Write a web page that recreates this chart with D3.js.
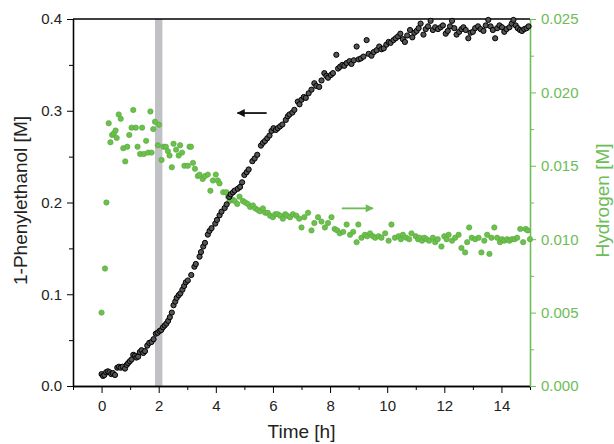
<!DOCTYPE html>
<html>
<head>
<meta charset="utf-8">
<script src="https://cdn.jsdelivr.net/npm/d3@7"></script>
<style>
  body { margin: 0; background: #fff; }
  svg { font-family: "Liberation Sans", Arial, sans-serif; }
</style>
</head>
<body>
<div id="chart"></div>
<script>
// 1-phenylethanol (left axis)
var phTime = [0.00,0.05,0.10,0.16,0.22,0.28,0.34,0.40,0.47,0.55,0.61,0.67,0.74,0.82,0.88,0.93,0.99,1.05,1.11,1.17,1.22,1.28,1.34,1.40,1.46,1.52,1.60,1.67,1.75,1.82,1.90,1.96,2.03,2.09,2.15,2.21,2.27,2.33,2.39,2.46,2.52,2.58,2.63,2.70,2.76,2.83,2.89,2.95,3.02,3.14,3.25,3.30,3.43,3.48,3.56,3.62,3.72,3.78,3.85,3.98,4.04,4.13,4.20,4.31,4.38,4.47,4.52,4.60,4.66,4.77,4.85,4.92,5.00,5.08,5.15,5.28,5.36,5.45,5.58,5.65,5.72,5.80,5.88,5.95,6.02,6.10,6.17,6.25,6.33,6.45,6.52,6.58,6.68,6.75,6.87,6.93,7.00,7.08,7.15,7.25,7.35,7.45,7.52,7.62,7.70,7.80,7.87,7.93,8.03,8.10,8.22,8.28,8.35,8.43,8.50,8.58,8.68,8.75,8.83,8.93,9.00,9.08,9.17,9.28,9.35,9.45,9.53,9.63,9.72,9.80,9.88,9.97,10.05,10.12,10.22,10.30,10.38,10.46,10.55,10.62,10.70,10.80,10.88,10.95,11.03,11.10,11.17,11.27,11.35,11.43,11.52,11.60,11.68,11.78,11.87,11.95,12.05,12.12,12.20,12.27,12.35,12.43,12.52,12.60,12.67,12.75,12.84,12.92,13.00,13.08,13.18,13.27,13.37,13.45,13.54,13.62,13.70,13.78,13.85,13.93,14.02,14.10,14.18,14.28,14.36,14.42,14.50,14.57,14.65,14.72,14.80,14.88,14.95];
var phConc = [0.013,0.011,0.012,0.015,0.016,0.015,0.013,0.014,0.012,0.020,0.021,0.020,0.021,0.019,0.023,0.025,0.027,0.029,0.034,0.033,0.031,0.032,0.037,0.039,0.036,0.038,0.044,0.047,0.048,0.051,0.057,0.058,0.060,0.061,0.064,0.066,0.068,0.071,0.075,0.080,0.088,0.092,0.096,0.099,0.101,0.105,0.109,0.113,0.115,0.121,0.130,0.133,0.141,0.146,0.152,0.156,0.165,0.169,0.172,0.177,0.181,0.186,0.190,0.194,0.198,0.206,0.209,0.211,0.213,0.215,0.217,0.222,0.230,0.233,0.236,0.245,0.248,0.252,0.262,0.265,0.267,0.270,0.273,0.278,0.281,0.279,0.281,0.283,0.285,0.290,0.294,0.296,0.298,0.301,0.310,0.307,0.312,0.315,0.314,0.319,0.323,0.330,0.327,0.326,0.333,0.341,0.338,0.336,0.339,0.341,0.361,0.346,0.348,0.350,0.349,0.352,0.354,0.351,0.355,0.370,0.356,0.357,0.359,0.377,0.362,0.360,0.364,0.366,0.370,0.367,0.368,0.372,0.375,0.374,0.377,0.379,0.381,0.384,0.378,0.375,0.382,0.388,0.380,0.385,0.387,0.390,0.395,0.383,0.389,0.392,0.398,0.388,0.391,0.389,0.391,0.393,0.384,0.387,0.392,0.398,0.390,0.383,0.386,0.389,0.391,0.388,0.379,0.385,0.386,0.390,0.392,0.389,0.387,0.393,0.399,0.392,0.388,0.379,0.390,0.393,0.391,0.386,0.389,0.391,0.395,0.399,0.393,0.390,0.388,0.387,0.389,0.390,0.392];

// hydrogen (right axis)
var h2Time = [0.00,0.12,0.17,0.25,0.31,0.37,0.43,0.49,0.53,0.60,0.67,0.76,0.83,0.90,0.97,1.05,1.11,1.20,1.26,1.35,1.42,1.48,1.56,1.63,1.71,1.75,1.81,1.87,1.97,2.01,2.10,2.17,2.25,2.32,2.38,2.46,2.52,2.61,2.70,2.75,2.82,2.90,3.02,3.08,3.13,3.20,3.27,3.37,3.43,3.54,3.62,3.72,3.81,3.90,4.00,4.07,4.13,4.26,4.37,4.43,4.48,4.58,4.66,4.75,4.83,4.95,5.03,5.12,5.20,5.30,5.38,5.47,5.55,5.65,5.73,5.82,5.90,6.00,6.08,6.17,6.26,6.35,6.43,6.50,6.60,6.70,6.82,6.92,7.00,7.10,7.23,7.35,7.45,7.58,7.70,7.82,7.93,8.05,8.16,8.25,8.34,8.46,8.58,8.70,8.81,8.93,8.99,9.10,9.22,9.30,9.40,9.50,9.58,9.70,9.80,9.93,10.05,10.15,10.27,10.40,10.48,10.55,10.67,10.77,10.85,11.00,11.08,11.13,11.22,11.30,11.38,11.47,11.60,11.68,11.77,11.90,12.00,12.08,12.15,12.27,12.38,12.50,12.60,12.73,12.80,12.87,12.96,13.08,13.20,13.30,13.40,13.50,13.58,13.65,13.75,13.85,13.95,14.02,14.10,14.20,14.28,14.37,14.46,14.55,14.66,14.76,14.85,14.92,15.00];
var h2Conc = [0.0050,0.0080,0.0125,0.0179,0.0166,0.0171,0.0172,0.0174,0.0169,0.0185,0.0182,0.0162,0.0153,0.0163,0.0171,0.0176,0.0188,0.0176,0.0163,0.0158,0.0176,0.0158,0.0167,0.0159,0.0187,0.0159,0.0175,0.0180,0.0164,0.0178,0.0154,0.0163,0.0163,0.0160,0.0157,0.0149,0.0165,0.0161,0.0157,0.0164,0.0159,0.0150,0.0150,0.0163,0.0163,0.0152,0.0148,0.0143,0.0144,0.0141,0.0143,0.0144,0.0133,0.0140,0.0144,0.0140,0.0138,0.0132,0.0132,0.0129,0.0126,0.0127,0.0126,0.0124,0.0129,0.0126,0.0125,0.0124,0.0122,0.0123,0.0121,0.0120,0.0119,0.0121,0.0118,0.0118,0.0116,0.0115,0.0117,0.0117,0.0116,0.0114,0.0117,0.0116,0.0115,0.0117,0.0116,0.0114,0.0108,0.0115,0.0118,0.0106,0.0111,0.0115,0.0112,0.0108,0.0111,0.0115,0.0107,0.0106,0.0104,0.0105,0.0110,0.0103,0.0105,0.0098,0.0110,0.0101,0.0103,0.0102,0.0104,0.0102,0.0101,0.0102,0.0101,0.0104,0.0099,0.0110,0.0101,0.0102,0.0100,0.0103,0.0101,0.0100,0.0104,0.0102,0.0100,0.0101,0.0099,0.0101,0.0100,0.0099,0.0101,0.0098,0.0100,0.0095,0.0102,0.0100,0.0103,0.0099,0.0101,0.0103,0.0094,0.0091,0.0098,0.0108,0.0101,0.0100,0.0101,0.0091,0.0099,0.0103,0.0090,0.0101,0.0108,0.0101,0.0098,0.0100,0.0099,0.0100,0.0099,0.0100,0.0100,0.0101,0.0107,0.0098,0.0107,0.0106,0.0100];

// annotations
var bandRange = [1.87, 2.13];
var leftArrow = { from: [5.78, 0.2975], to: [4.76, 0.2975] };
var rightArrow = { from: [8.41, 0.0121], to: [9.5, 0.0121] };

var xTicks = [0, 2, 4, 6, 8, 10, 12, 14];
var yTicks = [0.0, 0.1, 0.2, 0.3, 0.4];
var y2Ticks = [0.000, 0.005, 0.010, 0.015, 0.020, 0.025];

var width = 614, height = 444;
var margin = { top: 19, right: 84, bottom: 58, left: 73 };
var green = "#6cbd55";

var svg = d3.select("#chart").append("svg")
    .attr("width", width)
    .attr("height", height);

var x = d3.scaleLinear().domain([-1, 15]).range([margin.left, width - margin.right]);
var y = d3.scaleLinear().domain([0, 0.4]).range([height - margin.bottom, margin.top]);
var y2 = d3.scaleLinear().domain([0, 0.025]).range([height - margin.bottom, margin.top]);

// grey band
svg.append("rect")
    .attr("x", x(bandRange[0]))
    .attr("y", margin.top)
    .attr("width", x(bandRange[1]) - x(bandRange[0]))
    .attr("height", y(0) - margin.top)
    .attr("fill", "#c0c1c5");

// minor ticks
function minor(axis, vals, len) {
    return axis.tickValues(vals).tickSize(len).tickSizeOuter(0).tickFormat("");
}
svg.append("g").attr("transform", "translate(0," + y(0) + ")")
    .call(minor(d3.axisBottom(x), [-1, 1, 3, 5, 7, 9, 11, 13, 15], 4));
svg.append("g").attr("transform", "translate(" + x(-1) + ",0)")
    .call(minor(d3.axisLeft(y), [0.05, 0.15, 0.25, 0.35], 4));
svg.append("g").attr("class", "r").attr("transform", "translate(" + x(15) + ",0)")
    .call(minor(d3.axisRight(y2), [0.0025, 0.0075, 0.0125, 0.0175, 0.0225], 4));

// major axes
svg.append("g")
    .attr("transform", "translate(0," + y(0) + ")")
    .call(d3.axisBottom(x).tickValues(xTicks).tickSize(7).tickSizeOuter(0).tickPadding(7).tickFormat(d3.format("d")));
svg.append("g")
    .attr("transform", "translate(" + x(-1) + ",0)")
    .call(d3.axisLeft(y).tickValues(yTicks).tickSize(6).tickSizeOuter(0).tickPadding(5).tickFormat(d3.format(".1f")));
svg.append("g").attr("class", "r")
    .attr("transform", "translate(" + x(15) + ",0)")
    .call(d3.axisRight(y2).tickValues(y2Ticks).tickSize(6).tickSizeOuter(0).tickPadding(5).tickFormat(d3.format(".3f")));

// top border
svg.append("line")
    .attr("x1", x(-1)).attr("x2", x(15))
    .attr("y1", y(0.4)).attr("y2", y(0.4))
    .attr("stroke", "#000").attr("stroke-width", 1.3);

svg.selectAll("g .domain").attr("stroke-width", 1.3);
svg.selectAll("g text").style("font-size", "15px").attr("fill", "#222");
svg.selectAll("g.r .domain, g.r line").attr("stroke", green);
svg.selectAll("g.r text").attr("fill", green);

// data points
var phData = phTime.map(function(t, i) { return { t: t, v: phConc[i] }; });
var h2Data = h2Time.map(function(t, i) { return { t: t, v: h2Conc[i] }; });

svg.append("g").selectAll("circle")
    .data(h2Data)
    .enter()
    .append("circle")
    .attr("cx", d => x(d.t))
    .attr("cy", d => y2(d.v))
    .attr("r", 2.7)
    .attr("fill", "#6cc04c")
    .attr("stroke", "#57a83c")
    .attr("stroke-width", 0.6);

svg.append("g").selectAll("circle")
    .data(phData)
    .enter()
    .append("circle")
    .attr("cx", d => x(d.t))
    .attr("cy", d => y(d.v))
    .attr("r", 2.6)
    .attr("fill", "#555")
    .attr("stroke", "#000")
    .attr("stroke-width", 1);

// arrows
var defs = svg.append("defs");
function marker(id, col) {
    defs.append("marker")
        .attr("id", id)
        .attr("viewBox", "0 0 10 10")
        .attr("refX", 9).attr("refY", 5)
        .attr("markerWidth", 10).attr("markerHeight", 8)
        .attr("markerUnits", "userSpaceOnUse")
        .attr("orient", "auto")
        .append("path")
        .attr("d", "M0,0L10,5L0,10z")
        .attr("fill", col);
}
marker("ah-black", "#111");
marker("ah-green", green);

svg.append("line")
    .attr("x1", x(leftArrow.from[0])).attr("y1", y(leftArrow.from[1]))
    .attr("x2", x(leftArrow.to[0])).attr("y2", y(leftArrow.to[1]))
    .attr("stroke", "#111").attr("stroke-width", 1.8)
    .attr("marker-end", "url(#ah-black)");
svg.append("line")
    .attr("x1", x(rightArrow.from[0])).attr("y1", y2(rightArrow.from[1]))
    .attr("x2", x(rightArrow.to[0])).attr("y2", y2(rightArrow.to[1]))
    .attr("stroke", green).attr("stroke-width", 1.8)
    .attr("marker-end", "url(#ah-green)");

// axis titles
svg.append("text")
    .attr("x", (x(-1) + x(15)) / 2)
    .attr("y", 438)
    .attr("text-anchor", "middle")
    .attr("fill", "#222")
    .style("font-size", "19px")
    .text("Time [h]");

svg.append("text")
    .attr("transform", "translate(27," + (y(0.2) - 2) + ") rotate(-90)")
    .attr("text-anchor", "middle")
    .attr("fill", "#222")
    .style("font-size", "19px")
    .text("1-Phenylethanol [M]");

svg.append("text")
    .attr("transform", "translate(609," + (y(0.2) - 2) + ") rotate(-90)")
    .attr("text-anchor", "middle")
    .attr("fill", green)
    .style("font-size", "19px")
    .text("Hydrogen [M]");
</script>
</body>
</html>
